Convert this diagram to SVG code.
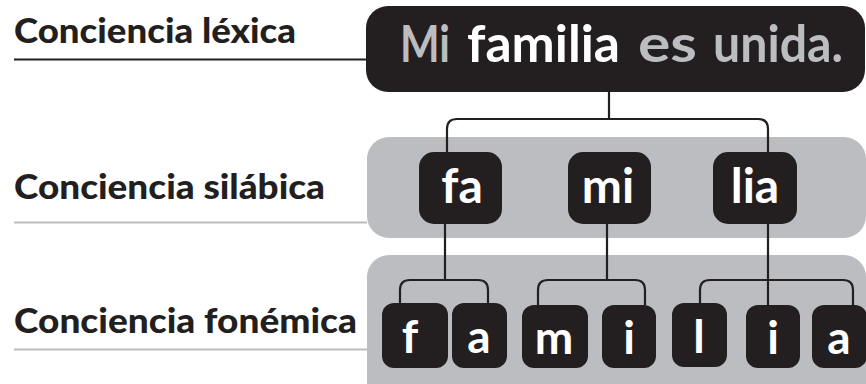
<svg xmlns="http://www.w3.org/2000/svg" width="866" height="384" viewBox="0 0 866 384">
<style>
.lbl{font-family:Lato,"Open Sans","Liberation Sans",sans-serif;font-weight:900;font-size:35px;fill:#231f20}
.box{fill:#231f20}
.band{fill:#bcbdc0}
.w{font-family:Lato,"Liberation Sans",sans-serif;font-weight:bold;fill:#ffffff;text-anchor:middle}
.syl{font-size:48px}
.ph{font-size:46px}
.title{font-family:Lato,"Liberation Sans",sans-serif;font-weight:bold;font-size:51px}
.g{fill:#bcbdc0}
.conn{fill:none;stroke:#231f20;stroke-width:2.2}
</style>
<rect width="866" height="384" fill="#ffffff"/>
<g id="labels">
<text class="lbl" x="14" y="43" textLength="282" lengthAdjust="spacingAndGlyphs">Conciencia léxica</text>
<line x1="14" y1="59.5" x2="367" y2="59.5" stroke="#231f20" stroke-width="2"/>
<text class="lbl" x="14" y="199" textLength="311" lengthAdjust="spacingAndGlyphs">Conciencia silábica</text>
<line x1="14" y1="222.5" x2="367" y2="222.5" stroke="#bcbdc0" stroke-width="2"/>
<text class="lbl" x="14" y="333" textLength="343" lengthAdjust="spacingAndGlyphs">Conciencia fonémica</text>
<line x1="14" y1="349.5" x2="367" y2="349.5" stroke="#bcbdc0" stroke-width="2"/>
</g>
<g id="bands">
<rect class="band" x="367" y="137" width="499" height="101" rx="22"/>
<rect class="band" x="367" y="255" width="499" height="150" rx="22"/>
</g>
<g id="connectors">
<path class="conn" d="M609,92 V119 M447,152 V129 Q447,119 457,119 H758 Q768,119 768,129 V152"/>
<path class="conn" d="M445,223 V280 M400,303 V290 Q400,280 410,280 H478 Q488,280 488,290 V303"/>
<path class="conn" d="M607,223 V280 M538,305 V290 Q538,280 548,280 H635 Q645,280 645,290 V305"/>
<path class="conn" d="M768,223 V305 M700,303 V290 Q700,280 710,280 H843 Q853,280 853,290 V305"/>
</g>
<g id="sentence">
<rect class="box" x="366" y="6" width="499" height="86" rx="22"/>
<text class="title" y="62"><tspan class="g" x="400" textLength="50" lengthAdjust="spacingAndGlyphs">Mi</tspan><tspan fill="#ffffff" x="467" textLength="153" lengthAdjust="spacingAndGlyphs">familia</tspan><tspan class="g" x="638" textLength="59" lengthAdjust="spacingAndGlyphs">es</tspan><tspan class="g" x="713" textLength="130" lengthAdjust="spacingAndGlyphs">unida.</tspan></text>
</g>
<g id="syl-fa"><rect class="box" x="419" y="152" width="83" height="72" rx="15"/><text class="w syl" x="462" y="203">fa</text></g>
<g id="syl-mi"><rect class="box" x="568" y="152" width="83" height="72" rx="15"/><text class="w syl" x="608" y="203">mi</text></g>
<g id="syl-lia"><rect class="box" x="713" y="152" width="84" height="72" rx="15"/><text class="w syl" x="755" y="203">lia</text></g>
<g id="ph-f"><rect class="box" x="382" y="303" width="66" height="65" rx="12"/><text class="w ph" x="410" y="353">f</text></g>
<g id="ph-a1"><rect class="box" x="452" y="303" width="55" height="65" rx="12"/><text class="w ph" x="479" y="353">a</text></g>
<g id="ph-m"><rect class="box" x="522" y="305" width="66" height="63" rx="12"/><text class="w ph" x="554" y="354">m</text></g>
<g id="ph-i1"><rect class="box" x="602" y="305" width="54" height="63" rx="12"/><text class="w ph" x="629" y="354">i</text></g>
<g id="ph-l"><rect class="box" x="672" y="303" width="55" height="64" rx="12"/><text class="w ph" x="699" y="353">l</text></g>
<g id="ph-i2"><rect class="box" x="746" y="305" width="54" height="63" rx="12"/><text class="w ph" x="773" y="354">i</text></g>
<g id="ph-a2"><rect class="box" x="812" y="305" width="55" height="63" rx="12"/><text class="w ph" x="839" y="354">a</text></g>
</svg>
